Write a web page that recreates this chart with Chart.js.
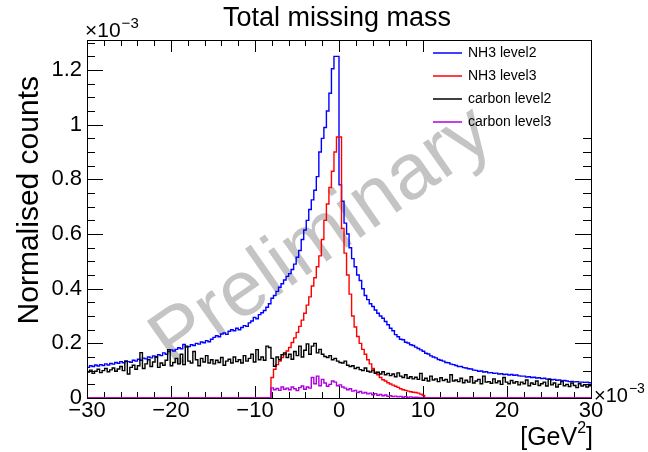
<!DOCTYPE html>
<html>
<head>
<meta charset="utf-8">
<script src="https://cdn.jsdelivr.net/npm/chart.js@4.4.0/dist/chart.umd.min.js"></script>
<style>
  html, body { margin: 0; padding: 0; background: #fff; }
</style>
</head>
<body>
<canvas id="mm-chart" width="648" height="452"></canvas>
<script>
// histogram definition: 200 bins from -30 to 30 (x 10^-3 GeV^2), counts in units of 10^-3
const xRange = [-30, 30];
const yMax = 1.31;
const xTickValues = [-30, -20, -10, 0, 10, 20, 30];
const yTickValues = [0, 0.2, 0.4, 0.6, 0.8, 1, 1.2];
const seriesNames = ['NH3 level2', 'NH3 level3', 'carbon level2', 'carbon level3'];
const seriesColours = ['#0000ff', '#ff0000', '#000000', '#b000e0'];

const nh3Level2 = [
  0.112, 0.118, 0.115, 0.121, 0.117, 0.122, 0.119, 0.125, 0.121, 0.126,
  0.124, 0.130, 0.127, 0.133, 0.129, 0.136, 0.133, 0.131, 0.138, 0.135,
  0.142, 0.138, 0.146, 0.143, 0.150, 0.147, 0.154, 0.151, 0.158, 0.155,
  0.165, 0.160, 0.170, 0.176, 0.172, 0.178, 0.184, 0.180, 0.196, 0.186,
  0.188, 0.195, 0.192, 0.200, 0.197, 0.205, 0.202, 0.210, 0.206, 0.215,
  0.222, 0.228, 0.224, 0.234, 0.238, 0.233, 0.244, 0.250, 0.246, 0.255,
  0.250, 0.258, 0.265, 0.262, 0.275, 0.282, 0.295, 0.290, 0.305, 0.312,
  0.320, 0.332, 0.345, 0.365, 0.375, 0.390, 0.405, 0.418, 0.432, 0.445,
  0.455, 0.470, 0.490, 0.515, 0.540, 0.580, 0.615, 0.650, 0.690, 0.725,
  0.760, 0.810, 0.900, 0.950, 0.990, 1.050, 1.115, 1.205, 1.250, 1.250,
  0.780, 0.720, 0.640, 0.600, 0.550, 0.510, 0.480, 0.450, 0.430, 0.400,
  0.375, 0.360, 0.345, 0.335, 0.322, 0.310, 0.300, 0.292, 0.280, 0.268,
  0.255, 0.246, 0.232, 0.224, 0.215, 0.213, 0.204, 0.201, 0.195, 0.192,
  0.186, 0.181, 0.176, 0.171, 0.164, 0.161, 0.154, 0.150, 0.147, 0.141,
  0.138, 0.135, 0.130, 0.129, 0.124, 0.122, 0.119, 0.115, 0.115, 0.111,
  0.110, 0.107, 0.106, 0.102, 0.101, 0.098, 0.099, 0.095, 0.096, 0.092,
  0.093, 0.090, 0.091, 0.088, 0.089, 0.086, 0.087, 0.084, 0.086, 0.083,
  0.084, 0.081, 0.080, 0.080, 0.077, 0.078, 0.075, 0.076, 0.073, 0.074,
  0.071, 0.072, 0.069, 0.070, 0.067, 0.068, 0.065, 0.066, 0.063, 0.064,
  0.062, 0.060, 0.061, 0.059, 0.060, 0.058, 0.058, 0.057, 0.058, 0.056
];

const nh3Level3 = [
  0, 0, 0, 0, 0, 0, 0, 0, 0, 0,
  0, 0, 0, 0, 0, 0, 0, 0, 0, 0,
  0, 0, 0, 0, 0, 0, 0, 0, 0, 0,
  0, 0, 0, 0, 0, 0, 0, 0, 0, 0,
  0, 0, 0, 0, 0, 0, 0, 0, 0, 0,
  0, 0, 0, 0, 0, 0, 0, 0, 0, 0,
  0, 0, 0, 0, 0, 0, 0, 0, 0, 0,
  0, 0, 0, 0.075, 0.105, 0.122, 0.135, 0.148, 0.160, 0.172,
  0.185, 0.203, 0.220, 0.240, 0.262, 0.285, 0.310, 0.340, 0.370, 0.410,
  0.440, 0.480, 0.520, 0.580, 0.650, 0.710, 0.770, 0.830, 0.900, 0.955,
  0.955, 0.620, 0.530, 0.450, 0.380, 0.300, 0.260, 0.225, 0.200, 0.178,
  0.160, 0.140, 0.125, 0.108, 0.094, 0.085, 0.075, 0.067, 0.062, 0.056,
  0.051, 0.047, 0.043, 0.039, 0.034, 0.030, 0.028, 0.025, 0.023, 0.021,
  0.020, 0.018, 0.014, 0.009, 0, 0, 0, 0, 0, 0,
  0, 0, 0, 0, 0, 0, 0, 0, 0, 0,
  0, 0, 0, 0, 0, 0, 0, 0, 0, 0,
  0, 0, 0, 0, 0, 0, 0, 0, 0, 0,
  0, 0, 0, 0, 0, 0, 0, 0, 0, 0,
  0, 0, 0, 0, 0, 0, 0, 0, 0, 0,
  0, 0, 0, 0, 0, 0, 0, 0, 0, 0
];

const carbonLevel2 = [
  0.095, 0.102, 0.090, 0.098, 0.105, 0.093, 0.100, 0.108, 0.096, 0.103,
  0.110, 0.098, 0.106, 0.115, 0.100, 0.134, 0.088, 0.112, 0.120, 0.105,
  0.118, 0.166, 0.108, 0.125, 0.140, 0.115, 0.132, 0.150, 0.112, 0.128,
  0.120, 0.138, 0.177, 0.118, 0.130, 0.145, 0.125, 0.160, 0.122, 0.190,
  0.135, 0.128, 0.170, 0.140, 0.118, 0.145, 0.132, 0.155, 0.128, 0.140,
  0.125, 0.138, 0.130, 0.148, 0.120, 0.135, 0.142, 0.128, 0.150, 0.133,
  0.140, 0.128, 0.155, 0.135, 0.145, 0.160, 0.132, 0.177, 0.140, 0.150,
  0.138, 0.190, 0.185, 0.145, 0.116, 0.150, 0.140, 0.158, 0.165, 0.148,
  0.160, 0.142, 0.170, 0.155, 0.190, 0.150, 0.175, 0.198, 0.160, 0.190,
  0.200, 0.165, 0.178, 0.160, 0.152, 0.148, 0.155, 0.140, 0.145, 0.135,
  0.130, 0.128, 0.135, 0.120, 0.115, 0.118, 0.108, 0.112, 0.104, 0.100,
  0.110, 0.098, 0.095, 0.102, 0.090, 0.094, 0.088, 0.096, 0.085, 0.090,
  0.082, 0.088, 0.078, 0.092, 0.080, 0.075, 0.085, 0.072, 0.078, 0.070,
  0.076, 0.068, 0.090, 0.065, 0.072, 0.062, 0.080, 0.066, 0.070, 0.060,
  0.074, 0.064, 0.068, 0.058, 0.085, 0.062, 0.066, 0.060, 0.072, 0.056,
  0.065, 0.058, 0.078, 0.055, 0.062, 0.068, 0.052, 0.080, 0.058, 0.060,
  0.054, 0.070, 0.056, 0.062, 0.050, 0.075, 0.058, 0.052, 0.064, 0.055,
  0.060, 0.048, 0.058, 0.052, 0.066, 0.045, 0.055, 0.050, 0.062, 0.046,
  0.052, 0.058, 0.044, 0.068, 0.048, 0.055, 0.040, 0.050, 0.060, 0.045,
  0.050, 0.042, 0.055, 0.046, 0.038, 0.052, 0.044, 0.048, 0.040, 0.045
];

const carbonLevel3 = [
  0, 0, 0, 0, 0, 0, 0, 0, 0, 0,
  0, 0, 0, 0, 0, 0, 0, 0, 0, 0,
  0, 0, 0, 0, 0, 0, 0, 0, 0, 0,
  0, 0, 0, 0, 0, 0, 0, 0, 0, 0,
  0, 0, 0, 0, 0, 0, 0, 0, 0, 0,
  0, 0, 0, 0, 0, 0, 0, 0, 0, 0,
  0, 0, 0, 0, 0, 0, 0, 0, 0, 0,
  0, 0, 0, 0.037, 0.030, 0.035, 0.028, 0.040, 0.032, 0.036,
  0.030, 0.040, 0.034, 0.027, 0.038, 0.044, 0.032, 0.040, 0.036, 0.075,
  0.052, 0.080, 0.045, 0.068, 0.055, 0.043, 0.050, 0.062, 0.058, 0.045,
  0.048, 0.040, 0.036, 0.030, 0.034, 0.025, 0.028, 0.020, 0.024, 0.018,
  0.020, 0.015, 0.018, 0.012, 0.016, 0.010, 0.013, 0.008, 0.011, 0.006,
  0.008, 0.005, 0.007, 0.004, 0.006, 0.003, 0.005, 0.002, 0.004, 0.002,
  0.003, 0.002, 0.001, 0, 0, 0, 0, 0, 0, 0,
  0, 0, 0, 0, 0, 0, 0, 0, 0, 0,
  0, 0, 0, 0, 0, 0, 0, 0, 0, 0,
  0, 0, 0, 0, 0, 0, 0, 0, 0, 0,
  0, 0, 0, 0, 0, 0, 0, 0, 0, 0,
  0, 0, 0, 0, 0, 0, 0, 0, 0, 0,
  0, 0, 0, 0, 0, 0, 0, 0, 0, 0
];

const FONT = "'Liberation Sans', Arial, Helvetica, sans-serif";

// turn bin contents into step points at the bin low edges (+ closing point at upper edge)
function binPoints(values) {
  const w = (xRange[1] - xRange[0]) / values.length;
  const pts = values.map((v, i) => ({ x: xRange[0] + i * w, y: v }));
  pts.push({ x: xRange[1], y: values[values.length - 1] });
  return pts;
}

// write "base" followed by a raised "sup"
function drawPowerText(ctx, base, sup, x, y, size, supSize) {
  ctx.textAlign = 'left';
  ctx.textBaseline = 'alphabetic';
  ctx.font = size + 'px ' + FONT;
  const wb = ctx.measureText(base).width;
  ctx.fillText(base, x, y);
  ctx.font = supSize + 'px ' + FONT;
  ctx.fillText(sup, x + wb + 1, y - size * 0.45);
}

const rootStyle = {
  id: 'rootStyle',
  beforeDatasetsDraw(chart) {
    const ctx = chart.ctx;
    const a = chart.chartArea;
    const xs = chart.scales.x, ys = chart.scales.y;
    ctx.save();
    ctx.strokeStyle = '#000';
    ctx.lineWidth = 1;
    ctx.beginPath();
    // x ticks, every 2 units, longer every 10
    for (let v = xRange[0]; v <= xRange[1]; v += 2) {
      const px = Math.round(xs.getPixelForValue(v)) + 0.5;
      const len = v % 10 === 0 ? 12 : 6;
      ctx.moveTo(px, a.bottom); ctx.lineTo(px, a.bottom - len);
      ctx.moveTo(px, a.top); ctx.lineTo(px, a.top + len);
    }
    // y ticks, every 0.05, longer every 0.2
    for (let i = 0; i * 0.05 <= yMax; i++) {
      const py = Math.round(ys.getPixelForValue(i * 0.05)) + 0.5;
      const len = i % 4 === 0 ? 16 : 8;
      ctx.moveTo(a.left, py); ctx.lineTo(a.left + len, py);
      ctx.moveTo(a.right, py); ctx.lineTo(a.right - len, py);
    }
    ctx.stroke();

    // legend box (white, hides the ticks in the corner)
    ctx.fillStyle = '#fff';
    ctx.fillRect(425, a.top + 1, a.right - 425, 92);

    // "Preliminary" watermark
    ctx.translate(322, 238);
    ctx.rotate(-35 * Math.PI / 180);
    ctx.fillStyle = '#c4c4c4';
    ctx.font = '79px ' + FONT;
    ctx.textAlign = 'center';
    ctx.textBaseline = 'middle';
    ctx.fillText('Preliminary', 0, 0);
    ctx.restore();
  },
  afterDatasetsDraw(chart) {
    const ctx = chart.ctx;
    const a = chart.chartArea;
    ctx.save();
    ctx.font = '14px ' + FONT;
    ctx.textAlign = 'left';
    ctx.textBaseline = 'middle';
    seriesNames.forEach((name, i) => {
      const ly = 53 + i * 23;
      ctx.strokeStyle = seriesColours[i];
      ctx.lineWidth = 1.5;
      ctx.beginPath();
      ctx.moveTo(433, ly); ctx.lineTo(462, ly);
      ctx.stroke();
      ctx.fillStyle = '#000';
      ctx.fillText(name, 468, ly);
    });

    // frame
    ctx.strokeStyle = '#000';
    ctx.lineWidth = 1;
    ctx.strokeRect(Math.round(a.left) + 0.5, Math.round(a.top) + 0.5,
                   Math.round(a.right - a.left), Math.round(a.bottom - a.top));
    ctx.restore();
  },
  afterDraw(chart) {
    const ctx = chart.ctx;
    ctx.save();
    ctx.fillStyle = '#000';
    // title
    ctx.font = '27px ' + FONT;
    ctx.textAlign = 'center';
    ctx.textBaseline = 'alphabetic';
    ctx.fillText('Total missing mass', 337, 26);
    // y axis title
    ctx.save();
    ctx.translate(38, 76);
    ctx.rotate(-Math.PI / 2);
    ctx.font = '30px ' + FONT;
    ctx.textAlign = 'right';
    ctx.textBaseline = 'alphabetic';
    ctx.fillText('Normalised counts', 0, 0);
    ctx.restore();
    // exponents
    drawPowerText(ctx, '\u00d710', '\u22123', 85, 37, 21, 15);
    drawPowerText(ctx, '\u00d710', '\u22123', 594, 402, 20, 14);
    // x axis title [GeV^2]
    ctx.font = '25px ' + FONT;
    const w1 = ctx.measureText('[GeV').width;
    const w3 = ctx.measureText(']').width;
    ctx.font = '16px ' + FONT;
    const w2 = ctx.measureText('2').width;
    const x0 = 593 - w1 - w2 - w3;
    ctx.textAlign = 'left';
    ctx.font = '25px ' + FONT;
    ctx.fillText('[GeV', x0, 445);
    ctx.font = '16px ' + FONT;
    ctx.fillText('2', x0 + w1, 433);
    ctx.font = '25px ' + FONT;
    ctx.fillText(']', x0 + w1 + w2, 445);
    ctx.restore();
  }
};

const allSeries = [nh3Level2, nh3Level3, carbonLevel2, carbonLevel3];
const drawOrder = [3, 2, 1, 0];

new Chart(document.getElementById('mm-chart'), {
  type: 'line',
  data: {
    datasets: allSeries.map((vals, i) => ({
      label: seriesNames[i],
      data: binPoints(vals),
      borderColor: seriesColours[i],
      borderWidth: 1.4,
      pointRadius: 0,
      stepped: 'before',
      fill: false,
      order: drawOrder[i]
    }))
  },
  options: {
    responsive: false,
    animation: false,
    events: [],
    layout: { padding: { left: 0, top: 40, right: 57, bottom: 0 } },
    plugins: { legend: { display: false }, tooltip: { enabled: false }, title: { display: false } },
    scales: {
      x: {
        type: 'linear',
        min: xRange[0],
        max: xRange[1],
        grid: { display: false, drawTicks: false },
        border: { display: false },
        afterBuildTicks: s => { s.ticks = xTickValues.map(v => ({ value: v })); },
        afterFit: s => { s.height = 54; },
        ticks: {
          autoSkip: false,
          maxRotation: 0,
          padding: 0,
          color: '#000',
          font: { family: FONT, size: 22 },
          callback: v => (v < 0 ? '\u2212' + Math.abs(v) : String(v))
        }
      },
      y: {
        type: 'linear',
        min: 0,
        max: yMax,
        grid: { display: false, drawTicks: false },
        border: { display: false },
        afterBuildTicks: s => { s.ticks = yTickValues.map(v => ({ value: v })); },
        afterFit: s => { s.width = 87; },
        ticks: {
          padding: 5,
          color: '#000',
          font: { family: FONT, size: 22 },
          callback: v => String(Number(v.toFixed(1)))
        }
      }
    }
  },
  plugins: [rootStyle]
});
</script>
</body>
</html>
